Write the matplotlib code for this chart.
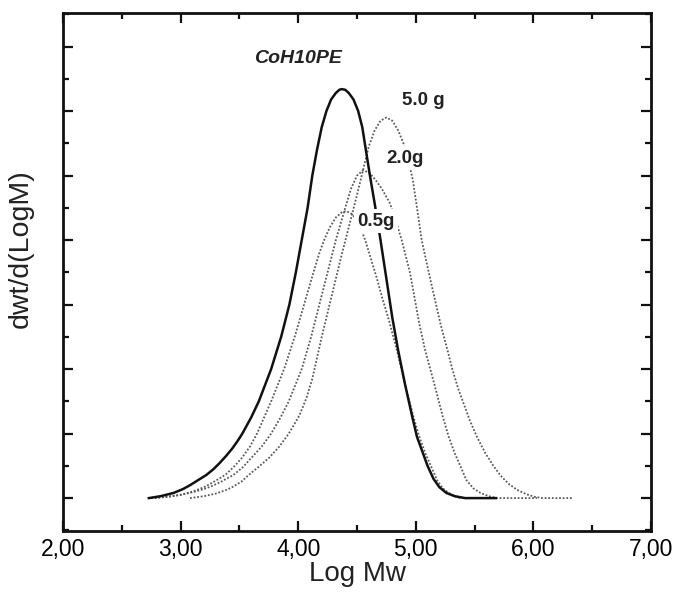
import matplotlib
matplotlib.use("Agg")
import matplotlib.pyplot as plt
from matplotlib.ticker import MultipleLocator, FixedLocator, FixedFormatter

plt.rcParams['font.family'] = ['Liberation Sans', 'DejaVu Sans']

# CoH10PE reference (solid)
solid_x = [2.73, 2.83, 2.94, 3.02, 3.08, 3.15, 3.22, 3.28, 3.33, 3.385, 3.44, 3.49,
           3.525, 3.60, 3.665, 3.77, 3.855, 3.925, 3.98, 4.03, 4.08, 4.12, 4.16, 4.20,
           4.24, 4.28, 4.32, 4.35, 4.37, 4.40, 4.43, 4.47, 4.51, 4.545, 4.575, 4.61,
           4.65, 4.70, 4.75, 4.80, 4.85, 4.91, 4.97, 5.01, 5.05, 5.10, 5.15, 5.20,
           5.26, 5.33, 5.42, 5.68]
solid_y = [0.0, 0.03, 0.08, 0.14, 0.20, 0.28, 0.36, 0.45, 0.54, 0.65, 0.77, 0.90,
           1.0, 1.25, 1.5, 2.0, 2.5, 3.0, 3.5, 4.0, 4.5, 5.0, 5.4, 5.75,
           6.0, 6.18, 6.28, 6.33, 6.34, 6.33, 6.28, 6.18, 6.0, 5.75, 5.4, 5.0,
           4.57, 4.0, 3.4, 2.8, 2.29, 1.75, 1.26, 0.95, 0.75, 0.5, 0.30, 0.17,
           0.08, 0.03, 0.0, 0.0]

# 5.0 g
g50_x = [3.08, 3.20, 3.30, 3.38, 3.45, 3.52, 3.58, 3.66, 3.75, 3.84, 3.92, 4.01,
         4.07, 4.12, 4.20, 4.28, 4.36, 4.43, 4.50, 4.555, 4.60, 4.65, 4.70, 4.75,
         4.80, 4.85, 4.895, 4.935, 4.975, 5.01, 5.05, 5.11, 5.16, 5.21, 5.27, 5.31,
         5.36, 5.41, 5.46, 5.52, 5.59, 5.66, 5.72, 5.79, 5.86, 5.94, 6.01, 6.08,
         6.33]
g50_y = [0.0, 0.03, 0.07, 0.12, 0.18, 0.26, 0.36, 0.48, 0.62, 0.80, 1.0, 1.28,
         1.55, 1.85, 2.5, 3.1, 3.7, 4.2, 4.7, 5.11, 5.45, 5.70, 5.85, 5.90,
         5.85, 5.70, 5.50, 5.25, 4.93, 4.5, 4.0, 3.5, 3.1, 2.7, 2.29, 2.0,
         1.7, 1.45, 1.2, 0.95, 0.7, 0.5, 0.35, 0.22, 0.13, 0.06, 0.02, 0.0,
         0.0]

# 2.0 g
g20_x = [2.78, 2.90, 3.00, 3.10, 3.20, 3.27, 3.33, 3.39, 3.45, 3.53, 3.60, 3.69,
         3.77, 3.85, 3.92, 4.03, 4.11, 4.18, 4.25, 4.32, 4.40, 4.45, 4.50, 4.55,
         4.60, 4.65, 4.71, 4.78, 4.83, 4.88, 4.95, 4.99, 5.03, 5.08, 5.16, 5.23,
         5.28, 5.33, 5.39, 5.43, 5.49, 5.55, 5.62, 5.69, 6.03]
g20_y = [0.0, 0.02, 0.05, 0.09, 0.14, 0.19, 0.24, 0.30, 0.36, 0.48, 0.62, 0.80,
         1.0, 1.25, 1.5, 2.0, 2.5, 3.0, 3.5, 4.0, 4.5, 4.8, 5.0, 5.08,
         5.05, 4.95, 4.80, 4.57, 4.3, 4.0, 3.5, 3.1, 2.7, 2.29, 1.75, 1.26,
         0.95, 0.7, 0.45, 0.28, 0.15, 0.08, 0.03, 0.0, 0.0]

# 0.5 g
g05_x = [2.75, 2.87, 3.00, 3.10, 3.20, 3.29, 3.38, 3.45, 3.52, 3.59, 3.65, 3.71,
         3.77, 3.88, 3.97, 4.05, 4.13, 4.18, 4.22, 4.27, 4.32, 4.37, 4.41, 4.46,
         4.51, 4.57, 4.62, 4.67, 4.715, 4.765, 4.84, 4.91, 4.98, 5.03, 5.08, 5.14,
         5.18, 5.23, 5.28, 5.33, 5.38, 5.68]
g05_y = [0.0, 0.02, 0.05, 0.10, 0.17, 0.26, 0.36, 0.48, 0.62, 0.80, 1.0, 1.25,
         1.5, 2.0, 2.5, 3.0, 3.5, 3.8, 4.0, 4.2, 4.35, 4.43, 4.45, 4.40,
         4.28, 4.0, 3.7, 3.4, 3.1, 2.8, 2.29, 1.75, 1.26, 0.95, 0.7, 0.45,
         0.28, 0.15, 0.08, 0.03, 0.0, 0.0]

x_ticks = [2, 3, 4, 5, 6, 7]
x_ticklabels = ["2,00", "3,00", "4,00", "5,00", "6,00", "7,00"]

fig = plt.figure(figsize=(6.77, 5.96), dpi=100)
ax = fig.add_axes([63/677, 1-531/596, (651-63)/677, (531-13)/596])

dot = dict(color='#5a5a5a', lw=1.3, linestyle=(0, (1, 1)))
ax.plot(g50_x, g50_y, **dot)
ax.plot(g20_x, g20_y, **dot)
ax.plot(g05_x, g05_y, **dot)
ax.plot(solid_x, solid_y, color='#111111', lw=1.8)

bbox = dict(facecolor='white', edgecolor='none', pad=2.5)
ax.text(4.00, 6.81, "CoH10PE", fontsize=14, fontweight='bold', style='italic',
        ha='center', va='center', color='#222222')
ax.text(5.065, 6.16, "5.0 g", fontsize=13.5, fontweight='bold', ha='center', va='center',
        color='#222222', bbox=bbox)
ax.text(4.91, 5.27, "2.0g", fontsize=13.5, fontweight='bold', ha='center', va='center',
        color='#222222', bbox=bbox)
ax.text(4.66, 4.29, "0.5g", fontsize=13.5, fontweight='bold', ha='center', va='center',
        color='#222222', bbox=bbox)

ax.set_xlim(2, 7)
ax.set_ylim(-0.51, 7.52)
ax.xaxis.set_major_locator(FixedLocator(x_ticks))
ax.xaxis.set_major_formatter(FixedFormatter(x_ticklabels))
ax.xaxis.set_minor_locator(MultipleLocator(0.5))
ax.yaxis.set_major_locator(MultipleLocator(1))
ax.yaxis.set_minor_locator(MultipleLocator(0.5))
ax.tick_params(which='both', direction='in', top=True, right=True, width=1.6,
               color='#111111')
ax.tick_params(which='major', length=7, labelsize=16.5, pad=5)
ax.tick_params(which='minor', length=4.5)
ax.tick_params(axis='y', which='both', labelleft=False)
for s in ax.spines.values():
    s.set_linewidth(2.0)
    s.set_color('#111111')

ax.set_xlabel("Log Mw", fontsize=20, labelpad=0, color='#222222')
ax.set_ylabel("dwt/d(LogM)", fontsize=20.5, color='#222222')
ax.yaxis.set_label_coords(-0.05, 0.546)

fig.savefig("out.png", dpi=100)
